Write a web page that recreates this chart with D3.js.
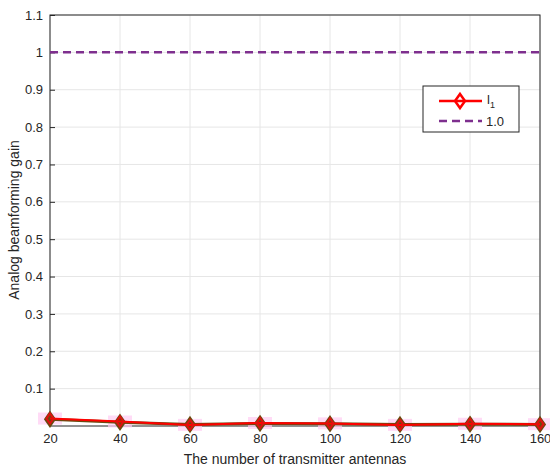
<!DOCTYPE html>
<html><head><meta charset="utf-8">
<script src="https://cdn.jsdelivr.net/npm/d3@7"></script>
<style>body{margin:0;background:#fff}text{font-family:"Liberation Sans",Arial,sans-serif}</style>
</head><body><svg id="chart" width="550" height="476"></svg>
<script>
// data
var antennas = [20, 40, 60, 80, 100, 120, 140, 160];
var gainL1 = [0.020, 0.012, 0.003, 0.008, 0.007, 0.003, 0.006, 0.005];
var gainRef = [0.018, 0.010, 0.004, 0.007, 0.006, 0.004, 0.005, 0.004];
var yTicks = [0.1, 0.2, 0.3, 0.4, 0.5, 0.6, 0.7, 0.8, 0.9, 1, 1.1];

var svg = d3.select("#chart");
var x = d3.scaleLinear().domain([20, 160]).range([50, 540]);
var y = d3.scaleLinear().domain([0, 1.1]).range([426, 15]);

// grid
svg.append("g").selectAll("line").data(antennas).enter().append("line")
  .attr("x1", d => x(d)).attr("x2", d => x(d)).attr("y1", 15).attr("y2", 426)
  .attr("stroke", "#e6e6e6");
svg.append("g").selectAll("line").data(yTicks).enter().append("line")
  .attr("x1", 50).attr("x2", 540).attr("y1", d => y(d)).attr("y2", d => y(d))
  .attr("stroke", "#e6e6e6");

svg.append("rect").attr("x", 50).attr("y", 15).attr("width", 490).attr("height", 411)
  .attr("fill", "none").attr("stroke", "#262626");

var xAxis = svg.append("g").attr("transform", "translate(0,426)")
  .call(d3.axisBottom(x).tickValues(antennas).tickSize(-5).tickPadding(8));
var yAxis = svg.append("g").attr("transform", "translate(50,0)")
  .call(d3.axisLeft(y).tickValues(yTicks).tickSize(-5).tickPadding(7).tickFormat(d3.format("~g")));
[xAxis, yAxis].forEach(function (g) {
  g.select(".domain").remove();
  g.selectAll("line").attr("stroke", "#262626");
  g.selectAll("text").attr("font-size", 13).attr("fill", "#262626");
});

svg.append("text").attr("x", 295).attr("y", 464).attr("text-anchor", "middle")
  .attr("font-size", 14).attr("fill", "#262626").text("The number of transmitter antennas");
svg.append("text").attr("transform", "translate(19,220) rotate(-90)").attr("text-anchor", "middle")
  .attr("font-size", 14).attr("fill", "#262626").text("Analog beamforming gain");

// reference line
svg.append("line").attr("x1", x(20)).attr("x2", x(160)).attr("y1", y(1)).attr("y2", y(1))
  .attr("stroke", "#7e2f8e").attr("stroke-width", 2.5).attr("stroke-dasharray", "8,5");

var line = d3.line().x((d, i) => x(antennas[i])).y(d => y(d));
function diamond(g, data, color, fill, r) {
  g.selectAll("path.m").data(data).enter().append("path").attr("class", "m")
    .attr("d", (d, i) => {
      var cx = x(antennas[i]), cy = y(d);
      return "M" + cx + "," + (cy - r) + "L" + (cx + r * 0.7) + "," + cy + "L" + cx + "," + (cy + r) + "L" + (cx - r * 0.7) + "," + cy + "Z";
    })
    .attr("fill", fill).attr("stroke", color).attr("stroke-width", 2);
}
// pink glow
svg.append("g").selectAll("rect").data(gainL1).enter().append("rect")
  .attr("x", (d, i) => x(antennas[i]) - 12).attr("y", d => y(d) - 6)
  .attr("width", 24).attr("height", 12).attr("fill", "#ffccf2").attr("opacity", 0.7);
var g2 = svg.append("g");
g2.append("path").datum(gainRef).attr("d", line).attr("fill", "none").attr("stroke", "#6b4a10").attr("stroke-width", 3);
diamond(g2, gainRef, "#6b4a10", "#6b4a10", 7);
var g1 = svg.append("g");
g1.append("path").datum(gainL1).attr("d", line).attr("fill", "none").attr("stroke", "#ff0000").attr("stroke-width", 2);
diamond(g1, gainL1, "#e01010", "none", 5);

// legend
var lg = svg.append("g");
lg.append("rect").attr("x", 423).attr("y", 86).attr("width", 96).attr("height", 46)
  .attr("fill", "#fff").attr("stroke", "#262626");
lg.append("line").attr("x1", 439).attr("x2", 482).attr("y1", 101).attr("y2", 101)
  .attr("stroke", "#ff0000").attr("stroke-width", 2.5);
lg.append("path").attr("d", "M460,94L465,101L460,108L455,101Z").attr("fill", "none")
  .attr("stroke", "#ff0000").attr("stroke-width", 2.5);
lg.append("text").attr("x", 487).attr("y", 104).attr("font-size", 13).attr("fill", "#262626")
  .text("l").append("tspan").attr("dy", 4).attr("font-size", 9).text("1");
lg.append("line").attr("x1", 439).attr("x2", 482).attr("y1", 121).attr("y2", 121)
  .attr("stroke", "#7e2f8e").attr("stroke-width", 2.5).attr("stroke-dasharray", "8,5");
lg.append("text").attr("x", 486).attr("y", 126).attr("font-size", 13).attr("fill", "#262626").text("1.0");
</script></body></html>
